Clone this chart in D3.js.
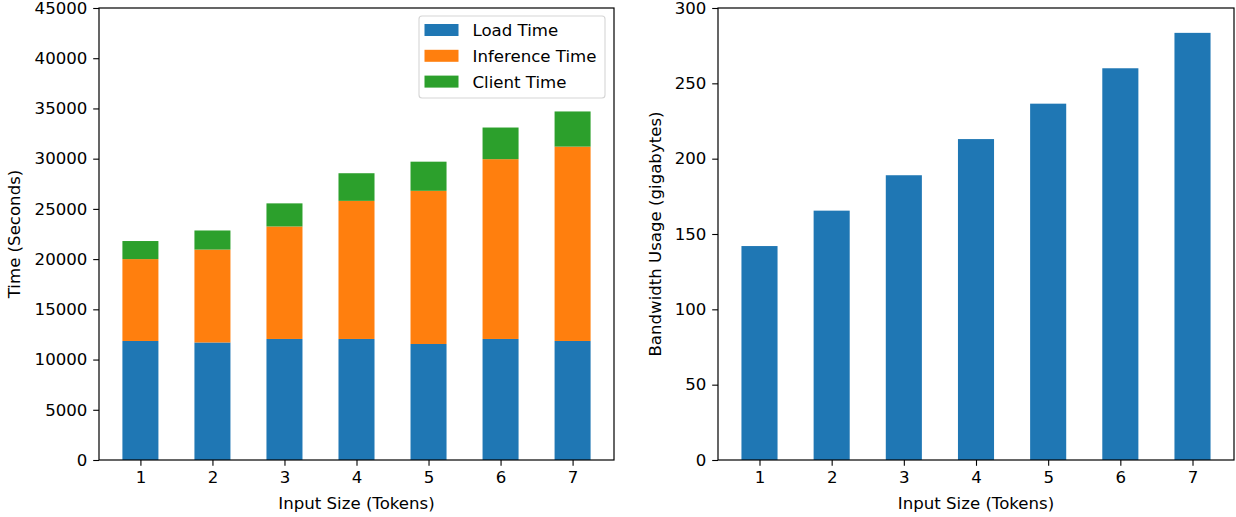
<!DOCTYPE html>
<html>
<head>
<meta charset="utf-8">
<script src="https://cdn.jsdelivr.net/npm/d3@7"></script>
<style>
  body { margin: 0; background: #fff; }
  svg { display: block; font-family: "DejaVu Sans", sans-serif; }
</style>
</head>
<body>
<svg id="chart" width="1236" height="517"></svg>
<script>
// --- Data ---
const inputSizes = ["1", "2", "3", "4", "5", "6", "7"];
const loadTime = [11850, 11700, 12050, 12050, 11550, 12050, 11850];
const inferenceTime = [8150, 9250, 11200, 13750, 15250, 17900, 19350];
const clientTime = [1800, 1900, 2300, 2750, 2900, 3150, 3500];
const bandwidth = [142, 165.5, 189, 213, 236.5, 260, 283.5];

const timeTicks = [0, 5000, 10000, 15000, 20000, 25000, 30000, 35000, 40000, 45000];
const bwTicks = [0, 50, 100, 150, 200, 250, 300];

const seriesNames = ["Load Time", "Inference Time", "Client Time"];
const colors = ["#1f77b4", "#ff7f0e", "#2ca02c"];

const fontSize = 16.6;
const tickLen = 5.8;
const svg = d3.select("#chart");

// pandas-style positions: bars at 0..n-1, width 0.5, 5% margins
function makeX(left, right) {
  return d3.scaleLinear().domain([-0.575, inputSizes.length - 1 + 0.575]).range([left, right]);
}

function drawAxes(g, x, y, yTicks, yLabel, left, right, top, bottom, yLabelX) {
  const yAxis = g.append("g")
    .attr("transform", `translate(${left},0)`)
    .call(d3.axisLeft(y).tickValues(yTicks).tickFormat(d3.format("d")).tickSizeOuter(0).tickSize(tickLen).tickPadding(5.8));
  const xAxis = g.append("g")
    .attr("transform", `translate(0,${bottom})`)
    .call(d3.axisBottom(x).tickValues(d3.range(inputSizes.length)).tickFormat(i => inputSizes[i]).tickSizeOuter(0).tickSize(tickLen).tickPadding(5.8));
  [xAxis, yAxis].forEach(a => {
    a.select(".domain").remove();
    a.selectAll("line").attr("stroke", "#000").attr("stroke-width", 1.1);
    a.selectAll("text").attr("fill", "#000").style("font-size", fontSize + "px").style("font-family", "DejaVu Sans");
  });

  // spines
  g.append("rect")
    .attr("x", left).attr("y", top)
    .attr("width", right - left).attr("height", bottom - top)
    .attr("fill", "none").attr("stroke", "#000").attr("stroke-width", 1.2);

  g.append("text")
    .attr("x", (left + right) / 2).attr("y", 508.5)
    .attr("text-anchor", "middle").style("font-size", fontSize + "px")
    .text("Input Size (Tokens)");

  g.append("text")
    .attr("transform", `translate(${yLabelX},${(top + bottom) / 2}) rotate(-90)`)
    .attr("text-anchor", "middle").style("font-size", fontSize + "px")
    .text(yLabel);
}

// --- Left: stacked times ---
{
  const left = 99, right = 614, top = 8, bottom = 460;
  const x = makeX(left, right);
  const y = d3.scaleLinear().domain([0, 45000]).range([bottom, top]);
  const g = svg.append("g");

  const rows = inputSizes.map((s, i) => ({
    idx: i, "Load Time": loadTime[i], "Inference Time": inferenceTime[i], "Client Time": clientTime[i]
  }));
  const stacked = d3.stack().keys(seriesNames)(rows);

  stacked.forEach((layer, k) => {
    g.append("g").selectAll("rect")
      .data(layer)
      .join("rect")
      .attr("x", d => x(d.data.idx - 0.25))
      .attr("width", d => x(0.5) - x(0))
      .attr("y", d => y(d[1]))
      .attr("height", d => y(d[0]) - y(d[1]))
      .attr("fill", colors[k]);
  });

  drawAxes(g, x, y, timeTicks, "Time (Seconds)", left, right, top, bottom, 19.5);

  // legend
  const lg = g.append("g");
  lg.append("rect")
    .attr("x", 419).attr("y", 16).attr("width", 186).attr("height", 82)
    .attr("rx", 3).attr("fill", "#fff").attr("fill-opacity", 0.8)
    .attr("stroke", "#d5d5d5").attr("stroke-width", 1.1);
  seriesNames.forEach((name, k) => {
    const cy = 30 + k * 25.8;
    lg.append("rect")
      .attr("x", 424.5).attr("y", cy - 6).attr("width", 34).attr("height", 12)
      .attr("fill", colors[k]);
    lg.append("text")
      .attr("x", 472.5).attr("y", cy + 6)
      .style("font-size", fontSize + "px")
      .text(name);
  });
}

// --- Right: bandwidth ---
{
  const left = 718, right = 1234, top = 8, bottom = 460;
  const x = makeX(left, right);
  const y = d3.scaleLinear().domain([0, 300]).range([bottom, top]);
  const g = svg.append("g");

  g.append("g").selectAll("rect")
    .data(bandwidth)
    .join("rect")
    .attr("x", (d, i) => x(i - 0.25))
    .attr("width", x(0.5) - x(0))
    .attr("y", d => y(d))
    .attr("height", d => y(0) - y(d))
    .attr("fill", colors[0]);

  drawAxes(g, x, y, bwTicks, "Bandwidth Usage (gigabytes)", left, right, top, bottom, 661);
}
</script>
</body>
</html>
